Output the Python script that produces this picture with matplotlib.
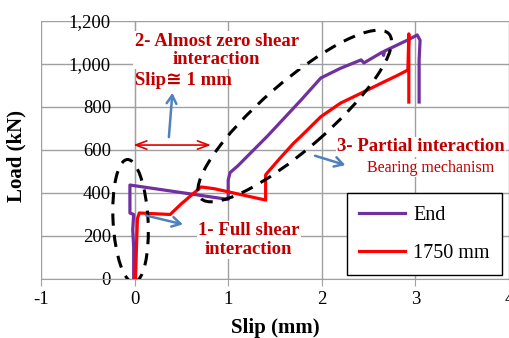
import matplotlib
matplotlib.use("Agg")
import matplotlib.pyplot as plt
from matplotlib.patches import Ellipse
from matplotlib.transforms import ScaledTranslation
from matplotlib.ticker import FuncFormatter

plt.rcParams['font.family'] = ['Liberation Serif', 'DejaVu Sans']
plt.rcParams['axes.unicode_minus'] = False

# End slip / load
end_slip = [-0.01, -0.01, -0.02, -0.01, -0.05, -0.05, 1.00, 1.00, 1.02, 1.10, 1.42, 1.78,
            1.99, 2.20, 2.42, 2.45, 2.65, 2.66, 2.67, 2.92, 3.02, 3.05, 3.04, 3.04]
end_load = [0, 150, 230, 300, 307, 437, 370, 460, 495, 525, 665, 833,
            935, 980, 1019, 1005, 1056, 1040, 1060, 1112, 1135, 1110, 1019, 823]

# 1750 mm slip / load
red_slip = [0.01, 0.02, 0.03, 0.05, 0.38, 0.50, 0.71, 0.85, 1.40, 1.40, 1.42, 1.55,
            1.70, 1.78, 1.99, 2.20, 2.40, 2.66, 2.80, 2.92, 2.93, 2.93]
red_load = [0, 150, 280, 307, 300, 350, 428, 420, 367, 484, 495, 560,
            632, 665, 755, 818, 860, 916, 945, 972, 1140, 823]

x_ticks = [-1, 0, 1, 2, 3, 4]
y_ticks = [0, 200, 400, 600, 800, 1000, 1200]

fig = plt.figure(figsize=(5.1, 3.38), dpi=100)
ax = fig.add_axes([0.0804, 0.1746, 0.9176, 0.7633])

ax.plot(end_slip, end_load, color='#7030A0', lw=2.3, label='End', zorder=3)
ax.plot(red_slip, red_load, color='#FF0000', lw=2.3, label='1750 mm', zorder=3)

ax.set_xlim(-1, 4)
ax.set_ylim(0, 1200)
ax.set_xticks(x_ticks)
ax.set_yticks(y_ticks)
ax.yaxis.set_major_formatter(FuncFormatter(lambda v, p: f'{int(v):,}'))
ax.grid(True, color='#a0a0a0', lw=1, zorder=0)
ax.set_axisbelow(True)

for s in ['top', 'right']:
    ax.spines[s].set_visible(False)
ax.spines['left'].set_position(('data', 0))
ax.spines['left'].set_color('#a0a0a0')
ax.spines['bottom'].set_color('#a0a0a0')
ax.tick_params(axis='both', colors='#a0a0a0', labelcolor='black', labelsize=13.5,
               direction='out', length=5)
ax.tick_params(axis='y', pad=12)

ax.set_xlabel('Slip (mm)', fontsize=15, fontweight='bold')
ax.set_ylabel('Load (kN)', fontsize=15, fontweight='bold')
ax.xaxis.set_label_coords(0.5, -0.15)
ax.yaxis.set_label_coords(-0.03, 0.477)

# dashed ellipses (sizes in inches)
dash = dict(fill=False, ec='black', lw=2.2, ls=(0, (4, 3)), zorder=4)
e1 = Ellipse((0, 0), 0.35, 1.23, angle=3,
             transform=fig.dpi_scale_trans + ScaledTranslation(-0.043, 270, ax.transData), **dash)
e2 = Ellipse((0, 0), 2.50, 0.67, angle=41,
             transform=fig.dpi_scale_trans + ScaledTranslation(1.711, 758, ax.transData), **dash)
ax.add_patch(e1)
ax.add_patch(e2)

red_txt = '#C00000'
box = dict(fc='white', ec='none', pad=1)
ax.text(0.877, 1063, '2- Almost zero shear\ninteraction', color=red_txt, fontsize=13.5,
        fontweight='bold', ha='center', va='center', linespacing=1.1, bbox=box, zorder=5)
ax.text(0.0, 921, 'Slip≅ 1 mm', color=red_txt, fontsize=13.5, fontweight='bold',
        ha='left', va='center', zorder=5)
ax.text(3.06, 614, '3- Partial interaction', color=red_txt, fontsize=13.5,
        fontweight='bold', ha='center', va='center', bbox=box, zorder=5)
ax.text(3.16, 516, 'Bearing mechanism', color=red_txt, fontsize=11.5,
        ha='center', va='center', bbox=box, zorder=5)
ax.text(1.22, 181, '1- Full shear\ninteraction', color=red_txt, fontsize=13.5,
        fontweight='bold', ha='center', va='center', linespacing=1.1, bbox=box, zorder=5)

blue = '#4F81BD'
bstyle = dict(arrowstyle='->, head_length=0.6, head_width=0.35', color=blue, lw=1.8)
ax.annotate('', xy=(0.406, 879), xytext=(0.364, 647), arrowprops=bstyle, zorder=6)
ax.annotate('', xy=(2.28, 526), xytext=(1.90, 577), arrowprops=bstyle, zorder=6)
ax.annotate('', xy=(0.545, 251), xytext=(0.096, 298), arrowprops=bstyle, zorder=6)
ax.annotate('', xy=(0.845, 623), xytext=(-0.043, 623),
            arrowprops=dict(arrowstyle='<->, head_length=0.8, head_width=0.3',
                            color='#E00000', lw=1.2), zorder=6)

leg = ax.legend(loc='lower right', bbox_to_anchor=(0.985, 0.0155), fontsize=14.5,
                frameon=True, fancybox=False, framealpha=1, edgecolor='black',
                handlelength=2.3, handletextpad=0.4, labelspacing=0.95, borderpad=0.6,
                borderaxespad=0)
leg.get_frame().set_linewidth(1.0)
leg.set_zorder(7)

fig.savefig('out.png', dpi=100)
